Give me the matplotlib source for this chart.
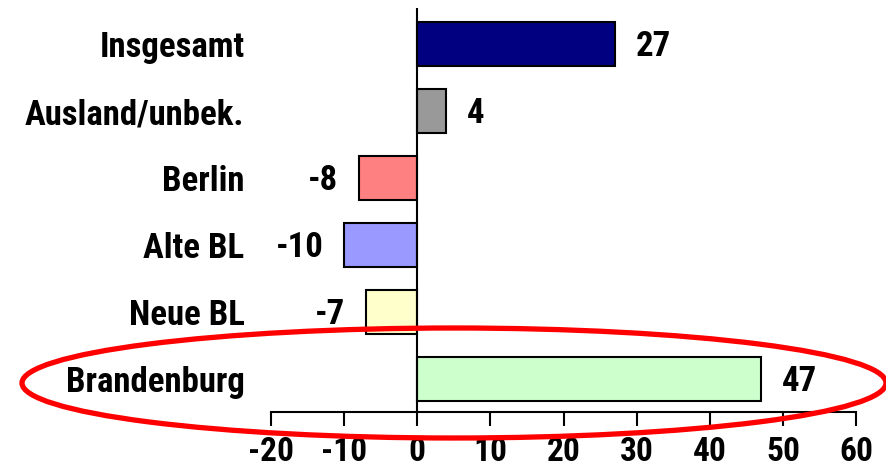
import matplotlib
matplotlib.use('Agg')
import matplotlib.pyplot as plt
from matplotlib import font_manager
from matplotlib.patches import Ellipse

# Daten (von oben nach unten)
kategorien = ['Insgesamt', 'Ausland/unbek.', 'Berlin', 'Alte BL', 'Neue BL', 'Brandenburg']
werte = [27, 4, -8, -10, -7, 47]
farben = ['#000080', '#999999', '#FF8080', '#9999FF', '#FFFFCC', '#CCFFCC']
xticks = [-20, -10, 0, 10, 20, 30, 40, 50, 60]

# schmale Schrift, wenn vorhanden
vorhanden = {f.name for f in font_manager.fontManager.ttflist}
schrift, fs = 'Liberation Sans', 21
for name in ['Liberation Sans Narrow', 'Roboto Condensed', 'Arial Narrow']:
    if name in vorhanden:
        schrift, fs = name, 25
        break
plt.rcParams['font.family'] = [schrift, 'DejaVu Sans']

fig = plt.figure(figsize=(8.87, 4.70), dpi=100)
ax = fig.add_axes([271/887, 1-412/470, 585/887, 404/470])

pos = list(range(len(kategorien)))[::-1]
ax.barh(pos, werte, height=0.66, color=farben, edgecolor='black', linewidth=1.5, zorder=2)

for p, w in zip(pos, werte):
    if w >= 0:
        ax.annotate(str(w), (w, p), xytext=(15, -2), textcoords='offset points',
                    ha='left', va='center', fontsize=fs, fontweight='bold')
    else:
        ax.annotate(str(w), (w, p), xytext=(-15, -2), textcoords='offset points',
                    ha='right', va='center', fontsize=fs, fontweight='bold')

ax.set_xlim(-20, 60)
ax.set_ylim(-0.49, 5.54)
ax.set_xticks(xticks)
ax.set_xticklabels([str(t) for t in xticks], fontsize=fs - 1, fontweight='bold')
ax.set_yticks(pos)
ax.set_yticklabels(kategorien, fontsize=fs, fontweight='bold')
ax.tick_params(axis='y', length=0, pad=19)
ax.tick_params(axis='x', length=10, width=1.5, pad=7, direction='out')

for s in ['top', 'right', 'left']:
    ax.spines[s].set_visible(False)
ax.spines['bottom'].set_linewidth(1.5)
ax.axvline(0, color='black', linewidth=1.5, zorder=3)

# rote Markierung um Brandenburg
ell = Ellipse((454/887, 1-383/470), 864/887, 110/470, transform=fig.transFigure,
              fill=False, edgecolor='#FF0000', linewidth=3.8, clip_on=False)
fig.add_artist(ell)

plt.savefig('out.png', dpi=100)
